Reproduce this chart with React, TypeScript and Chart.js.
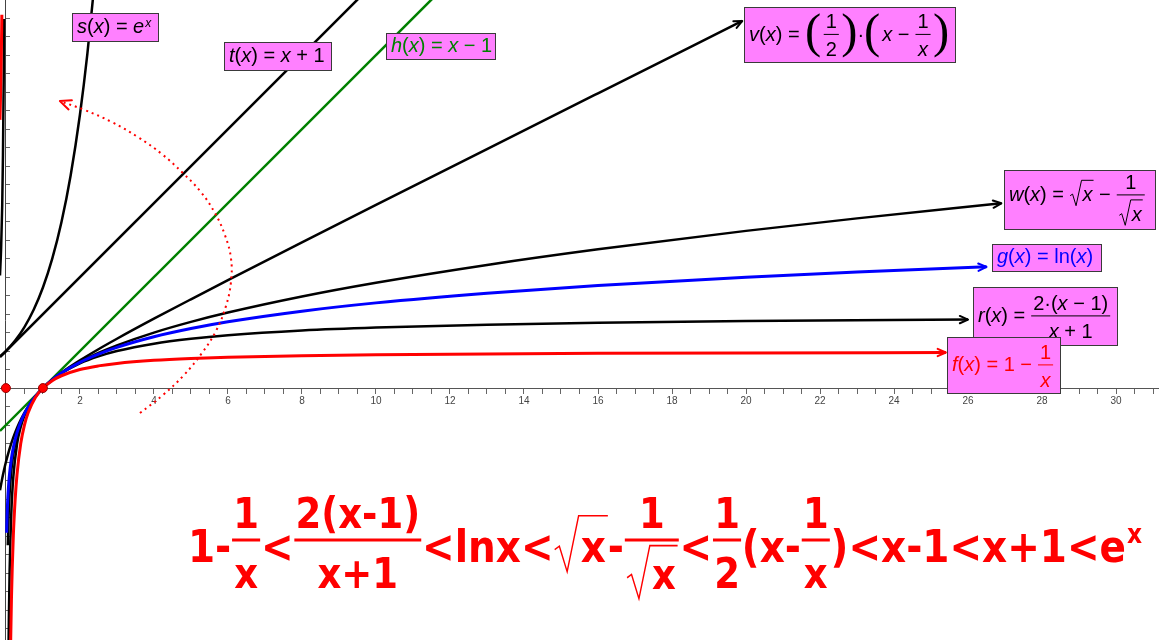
import React, { useEffect, useRef } from 'react';
import { Chart, registerables } from 'chart.js';

Chart.register(...registerables);

// ---- axis ranges ----
const X_MIN = -0.16;
const X_MAX = 31.16;
const Y_MIN = -6.81;
const Y_MAX = 10.49;
const xTickLabels = [2, 4, 6, 8, 10, 12, 14, 16, 18, 20, 22, 24, 26, 28, 30];

// ---- series ----
// f(x) = 1 - 1/x
const fX = [0.12, 0.15, 0.2, 0.25, 0.3, 0.4, 0.5, 0.6, 0.8, 1, 1.25, 1.5, 2, 2.5, 3, 4, 5, 6, 8, 10, 13, 16, 20, 25.4];
const fY = [-7.33, -5.67, -4, -3, -2.33, -1.5, -1, -0.667, -0.25, 0, 0.2, 0.333, 0.5, 0.6, 0.667, 0.75, 0.8, 0.833, 0.875, 0.9, 0.923, 0.938, 0.95, 0.961];
const fNegX = [-0.16, -0.14, -0.12, -0.11];
const fNegY = [7.25, 8.14, 9.33, 10.09];
// g(x) = ln(x)
const gX = [0.02, 0.03, 0.05, 0.075, 0.1, 0.15, 0.2, 0.3, 0.4, 0.5, 0.6, 0.8, 1, 1.25, 1.5, 2, 2.5, 3, 4, 5, 6, 8, 10, 13, 16, 20, 23, 26.5];
const gY = [-3.912, -3.507, -2.996, -2.59, -2.303, -1.897, -1.609, -1.204, -0.916, -0.693, -0.511, -0.223, 0, 0.223, 0.405, 0.693, 0.916, 1.099, 1.386, 1.609, 1.792, 2.079, 2.303, 2.565, 2.773, 2.996, 3.135, 3.277];
// r(x) = 2(x-1)/(x+1)
const rX = [-0.16, -0.1, -0.05, 0, 0.1, 0.2, 0.3, 0.4, 0.5, 0.6, 0.8, 1, 1.25, 1.5, 2, 2.5, 3, 4, 5, 6, 8, 10, 13, 16, 20, 26];
const rY = [-2.762, -2.444, -2.211, -2, -1.636, -1.333, -1.077, -0.857, -0.667, -0.5, -0.222, 0, 0.222, 0.4, 0.667, 0.857, 1, 1.2, 1.333, 1.429, 1.556, 1.636, 1.714, 1.765, 1.81, 1.852];
// w(x) = sqrt(x) - 1/sqrt(x)
const wX = [0.05, 0.075, 0.1, 0.15, 0.2, 0.3, 0.4, 0.5, 0.6, 0.8, 1, 1.25, 1.5, 2, 2.5, 3, 4, 5, 6, 8, 10, 13, 16, 20, 23, 26.9];
const wY = [-4.249, -3.377, -2.846, -2.195, -1.789, -1.278, -0.949, -0.707, -0.516, -0.224, 0, 0.224, 0.408, 0.707, 0.949, 1.155, 1.5, 1.789, 2.041, 2.475, 2.846, 3.328, 3.75, 4.249, 4.587, 4.994];
// v(x) = (x - 1/x)/2
const vX = [0.07, 0.08, 0.1, 0.12, 0.15, 0.2, 0.3, 0.4, 0.5, 0.6, 0.8, 1, 1.25, 1.5, 2, 2.5, 3, 4, 5, 6, 8, 10, 13, 16, 19.9];
const vY = [-7.108, -6.21, -4.95, -4.107, -3.258, -2.4, -1.517, -1.05, -0.75, -0.533, -0.225, 0, 0.225, 0.417, 0.75, 1.05, 1.333, 1.875, 2.4, 2.917, 3.938, 4.95, 6.462, 7.969, 9.925];
const vNegX = [-0.16, -0.13, -0.1, -0.08, -0.06, -0.05];
const vNegY = [3.045, 3.781, 4.95, 6.29, 8.36, 9.975];
// h(x) = x - 1
const hX = [-0.16, 11.6];
const hY = [-1.16, 10.6];
// t(x) = x + 1
const tX = [-0.16, 9.6];
const tY = [0.84, 10.6];
// s(x) = e^x
const sX = [-0.16, 0, 0.25, 0.5, 0.75, 1, 1.25, 1.5, 1.75, 2, 2.2, 2.4];
const sY = [0.852, 1, 1.284, 1.649, 2.117, 2.718, 3.49, 4.482, 5.755, 7.389, 9.025, 11.023];
// dotted red arc
const arcX = [3.622, 4.243, 4.811, 5.297, 5.676, 5.946, 6.081, 6.081, 5.919, 5.649, 5.27, 4.784, 4.216, 3.568, 2.865, 2.135, 1.459];
const arcY = [-0.676, -0.189, 0.351, 0.946, 1.541, 2.216, 2.865, 3.514, 4.135, 4.73, 5.297, 5.811, 6.324, 6.784, 7.189, 7.514, 7.757];
// points
const ptX = [0, 1];
const ptY = [0, 0];

const pts = (xs: number[], ys: number[]) => xs.map((x, i) => ({ x, y: ys[i] }));

// ---- tiny math text layout ----
type MNode =
  | { k: 't'; s: string; it?: boolean }
  | { k: 'frac'; n: MNode[]; d: MNode[] }
  | { k: 'sqrt'; b: MNode[] }
  | { k: 'sup'; b: MNode[] }
  | { k: 'par'; b: MNode[] };
const T = (s: string): MNode => ({ k: 't', s });
const I = (s: string): MNode => ({ k: 't', s, it: true });
const FR = (n: MNode[], d: MNode[]): MNode => ({ k: 'frac', n, d });
const SQ = (b: MNode[]): MNode => ({ k: 'sqrt', b });
const SUP = (b: MNode[]): MNode => ({ k: 'sup', b });
const PAR = (b: MNode[]): MNode => ({ k: 'par', b });

interface MStyle {
  fam: string; bold: boolean; fs: number; axis: number; numShift: number; denShift: number;
  gap: number; bar: number; barPad: number; supScale: number; supRaise: number; rad: number; radLw: number; parFam: string;
}
interface MBox { w: number; a: number; d: number; }

const fontOf = (st: MStyle, size: number, it?: boolean) =>
  `${it ? 'italic ' : ''}${st.bold ? 'bold ' : ''}${size}px ${st.fam}`;

function mNodes(ctx: CanvasRenderingContext2D, ns: MNode[], st: MStyle, size: number): MBox {
  let w = 0, a = 0, d = 0;
  for (const n of ns) {
    const b = mNode(ctx, n, st, size);
    w += b.w; a = Math.max(a, b.a); d = Math.max(d, b.d);
  }
  return { w, a, d };
}
function mNode(ctx: CanvasRenderingContext2D, n: MNode, st: MStyle, size: number): MBox {
  if (n.k === 't') {
    ctx.font = fontOf(st, size, n.it);
    const tall = /[0-9A-Zbdfhklt()\/]/.test(n.s);
    return { w: ctx.measureText(n.s).width, a: size * (tall ? 0.74 : 0.55), d: /[()gjpqy]/.test(n.s) ? size * 0.21 : 0 };
  }
  if (n.k === 'frac') {
    const f = size * st.fs;
    const nb = mNodes(ctx, n.n, st, f);
    const db = mNodes(ctx, n.d, st, f);
    const ax = size * st.axis;
    const dBase = Math.max(st.denShift * f, st.gap + db.a);
    return { w: Math.max(nb.w, db.w) + 2 * st.barPad * size, a: ax + st.numShift * f + nb.a, d: dBase + db.d - ax };
  }
  if (n.k === 'sqrt') {
    const bb = mNodes(ctx, n.b, st, size);
    return { w: bb.w + st.rad * size + 0.05 * size, a: 1.05 * size + st.radLw, d: Math.max(bb.d, 0.25 * size) };
  }
  if (n.k === 'sup') {
    const bb = mNodes(ctx, n.b, st, size * st.supScale);
    return { w: bb.w + 1, a: st.supRaise * size + bb.a, d: 0 };
  }
  const bb = mNodes(ctx, n.b, st, size);
  const ps = (bb.a + bb.d) / 0.88;
  ctx.font = `${ps}px ${st.parFam}`;
  const pw = ctx.measureText('(').width;
  return { w: bb.w + 2 * pw + 4, a: bb.a + 1, d: bb.d + 1 };
}
function dNodes(ctx: CanvasRenderingContext2D, ns: MNode[], st: MStyle, size: number, x: number, y: number): number {
  for (const n of ns) x += dNode(ctx, n, st, size, x, y);
  return x;
}
function dNode(ctx: CanvasRenderingContext2D, n: MNode, st: MStyle, size: number, x: number, y: number): number {
  const b = mNode(ctx, n, st, size);
  if (n.k === 't') {
    ctx.font = fontOf(st, size, n.it);
    ctx.fillText(n.s, x, y);
    return b.w;
  }
  if (n.k === 'frac') {
    const f = size * st.fs;
    const nb = mNodes(ctx, n.n, st, f);
    const db = mNodes(ctx, n.d, st, f);
    const barY = y - size * st.axis;
    ctx.fillRect(x + size * 0.02, barY - st.bar / 2, b.w - size * 0.04, st.bar);
    dNodes(ctx, n.n, st, f, x + (b.w - nb.w) / 2, barY - st.numShift * f);
    dNodes(ctx, n.d, st, f, x + (b.w - db.w) / 2, barY + Math.max(st.denShift * f, st.gap + db.a));
    return b.w;
  }
  if (n.k === 'sqrt') {
    const bb = mNodes(ctx, n.b, st, size);
    const rw = st.rad * size;
    const top = y - 1.05 * size;
    ctx.save();
    ctx.strokeStyle = ctx.fillStyle as string;
    ctx.lineWidth = st.radLw;
    ctx.beginPath();
    ctx.moveTo(x + 0.03 * size, y - 0.28 * size);
    ctx.lineTo(x + 0.15 * size, y - 0.36 * size);
    ctx.lineTo(x + rw * 0.5, y + 0.22 * size);
    ctx.lineTo(x + rw * 0.92, top);
    ctx.lineTo(x + rw + bb.w + 0.05 * size, top);
    ctx.stroke();
    ctx.restore();
    dNodes(ctx, n.b, st, size, x + rw, y);
    return b.w;
  }
  if (n.k === 'sup') {
    dNodes(ctx, n.b, st, size * st.supScale, x + 1, y - st.supRaise * size);
    return b.w;
  }
  const bb = mNodes(ctx, n.b, st, size);
  const ps = (bb.a + bb.d) / 0.88;
  const pf = `${ps}px ${st.parFam}`;
  ctx.font = pf;
  const pw = ctx.measureText('(').width;
  const base = y + bb.d - 0.2 * ps;
  ctx.fillText('(', x, base);
  dNodes(ctx, n.b, st, size, x + pw + 2, y);
  ctx.font = pf;
  ctx.fillText(')', x + pw + 2 + bb.w + 2, base);
  return b.w;
}

const labelStyle: MStyle = {
  fam: '"Liberation Sans", Arial, sans-serif', bold: false, fs: 1, axis: 0.32, numShift: 0.3, denShift: 1.1,
  gap: 4, bar: 1, barPad: 0.12, supScale: 0.6, supRaise: 0.3, rad: 0.65, radLw: 1, parFam: '"Liberation Serif", serif',
};
const formulaStyle: MStyle = {
  fam: '"DejaVu Sans", sans-serif', bold: true, fs: 0.95, axis: 0.5, numShift: 0.29, denShift: 1.14,
  gap: 4, bar: 3, barPad: 0.05, supScale: 0.6, supRaise: 0.43, rad: 0.7, radLw: 1.6, parFam: '"DejaVu Serif", serif',
};

const MINUS = '\u2212';
const labels = [
  { nodes: [I('s'), T('('), I('x'), T(')'), T(' = '), I('e'), SUP([I('x')])], color: '#000000', x: 1.776, y: 10.127, w: 87, h: 29 },
  { nodes: [I('t'), T('('), I('x'), T(') = '), I('x'), T(' + 1')], color: '#000000', x: 5.892, y: 9.359, w: 108, h: 29 },
  { nodes: [I('h'), T('('), I('x'), T(') = '), I('x'), T(` ${MINUS} 1`)], color: '#008000', x: 10.27, y: 9.603, w: 110, h: 27 },
  { nodes: [I('v'), T('('), I('x'), T(') = '), PAR([FR([T('1')], [T('2')])]), T('\u00B7'), PAR([I('x'), T(` ${MINUS} `), FR([T('1')], [I('x')])])], color: '#000000', x: 19.946, y: 10.289, w: 212, h: 56 },
  { nodes: [I('w'), T('('), I('x'), T(') = '), SQ([I('x')]), T(` ${MINUS} `), FR([T('1')], [SQ([I('x')])])], color: '#000000', x: 26.97, y: 5.892, w: 152, h: 60 },
  { nodes: [I('g'), T('('), I('x'), T(') = ln('), I('x'), T(')')], color: '#0000FF', x: 26.64, y: 3.884, w: 110, h: 28 },
  { nodes: [I('r'), T('('), I('x'), T(') = '), FR([T('2\u00B7('), I('x'), T(` ${MINUS} 1)`)], [I('x'), T(' + 1')])], color: '#000000', x: 26.13, y: 2.722, w: 145, h: 59 },
  { nodes: [I('f'), T('('), I('x'), T(`) = 1 ${MINUS} `), FR([T('1')], [I('x')])], color: '#FF0000', x: 25.44, y: 1.37, w: 114, h: 57 },
];

const formula: MNode[] = [
  T('1-'), FR([T('1')], [T('x')]), T('<'), FR([T('2(x-1)')], [T('x+1')]), T('<lnx<'), SQ([T('x')]), T('-'),
  FR([T('1')], [SQ([T('x')])]), T('<'), FR([T('1')], [T('2')]), T('(x-'), FR([T('1')], [T('x')]),
  T(')<x-1<x+1<e'), SUP([T('x')]),
];

function arrowHead(ctx: CanvasRenderingContext2D, x1: number, y1: number, x2: number, y2: number, color: string, len: number, ang: number, lw: number) {
  const a = Math.atan2(y2 - y1, x2 - x1);
  ctx.save();
  ctx.strokeStyle = color;
  ctx.lineWidth = lw;
  ctx.lineCap = 'round';
  ctx.lineJoin = 'round';
  ctx.beginPath();
  ctx.moveTo(x2 - len * Math.cos(a - ang), y2 - len * Math.sin(a - ang));
  ctx.lineTo(x2, y2);
  ctx.lineTo(x2 - len * Math.cos(a + ang), y2 - len * Math.sin(a + ang));
  ctx.stroke();
  ctx.restore();
}

const decorPlugin = {
  id: 'decor',
  afterDraw(chart: any) {
    const ctx: CanvasRenderingContext2D = chart.ctx;
    const xs = chart.scales.x;
    const ys = chart.scales.y;
    // arrowheads
    chart.data.datasets.forEach((ds: any, i: number) => {
      if (!ds.arrow) return;
      const el = chart.getDatasetMeta(i).data;
      const p1 = el[el.length - 2];
      const p2 = el[el.length - 1];
      arrowHead(ctx, p1.x, p1.y, p2.x, p2.y, ds.borderColor, ds.arrowLen || 9, 0.42, 2);
    });
    // label boxes
    ctx.save();
    ctx.textBaseline = 'alphabetic';
    ctx.textAlign = 'left';
    for (const L of labels) {
      const px = Math.round(xs.getPixelForValue(L.x));
      const py = Math.round(ys.getPixelForValue(L.y));
      ctx.fillStyle = '#FF80FF';
      ctx.fillRect(px, py, L.w, L.h);
      ctx.strokeStyle = '#3a3a3a';
      ctx.lineWidth = 1;
      ctx.strokeRect(px + 0.5, py + 0.5, L.w - 1, L.h - 1);
      const m = mNodes(ctx, L.nodes, labelStyle, 20);
      const base = py + (L.h - (m.a + m.d)) / 2 + m.a;
      ctx.fillStyle = L.color;
      dNodes(ctx, L.nodes, labelStyle, 20, px + 5, base);
    }
    // big formula
    const size = 44;
    const m = mNodes(ctx, formula, formulaStyle, size);
    const startX = 188;
    const targetW = 954;
    const sx = targetW / m.w;
    ctx.translate(startX, 0);
    ctx.scale(sx, 1);
    ctx.fillStyle = '#FF0000';
    dNodes(ctx, formula, formulaStyle, size, 0, 562);
    ctx.restore();
  },
};

export default function App() {
  const ref = useRef<HTMLCanvasElement | null>(null);
  useEffect(() => {
    document.body.style.margin = '0';
    const canvas = ref.current;
    if (!canvas) return;
    const line = (data: any[], color: string, width: number, extra: any = {}) => ({
      data, borderColor: color, backgroundColor: color, borderWidth: width, showLine: true,
      pointRadius: 0, fill: false, cubicInterpolationMode: 'monotone', ...extra,
    });
    const chart = new Chart(canvas, {
      type: 'scatter',
      data: {
        datasets: [
          { data: pts(ptX, ptY), pointRadius: 4.5, backgroundColor: '#FF0000', borderColor: '#990000', borderWidth: 1, showLine: false },
          { data: pts(arcX, arcY), borderColor: '#FF0000', borderWidth: 2, borderDash: [2, 4], showLine: true, pointRadius: 0, tension: 0.4, arrow: true, arrowLen: 12 } as any,
          line(pts(fX, fY), '#FF0000', 3, { arrow: true }),
          line(pts(fNegX, fNegY), '#FF0000', 3),
          line(pts(gX, gY), '#0000FF', 3, { arrow: true }),
          line(pts(rX, rY), '#000000', 2.5, { arrow: true }),
          line(pts(wX, wY), '#000000', 2.5, { arrow: true }),
          line(pts(vX, vY), '#000000', 2.5, { arrow: true }),
          line(pts(vNegX, vNegY), '#000000', 2.5),
          line(pts(hX, hY), '#008000', 2.5),
          line(pts(tX, tY), '#000000', 2.5),
          line(pts(sX, sY), '#000000', 2.5),
        ],
      },
      options: {
        responsive: false,
        animation: false,
        events: [],
        layout: { padding: 0, autoPadding: false },
        plugins: { legend: { display: false }, tooltip: { enabled: false } },
        scales: {
          x: {
            type: 'linear', min: X_MIN, max: X_MAX, position: { y: 0 } as any,
            grid: { drawOnChartArea: false, drawTicks: true, tickLength: 5, color: '#666666' },
            border: { color: '#555555', width: 1 },
            ticks: {
              stepSize: 0.5, autoSkip: false, maxRotation: 0, includeBounds: false, padding: 2,
              color: '#444444', font: { family: '"Liberation Sans", Arial, sans-serif', size: 10 },
              callback: (v: any) => (xTickLabels.includes(Number(v)) ? String(v) : ''),
            },
          },
          y: {
            type: 'linear', min: Y_MIN, max: Y_MAX, position: { x: 0 } as any,
            grid: { drawOnChartArea: false, drawTicks: true, tickLength: -5, color: '#666666' },
            border: { color: '#444444', width: 1 },
            ticks: { stepSize: 0.5, display: false, includeBounds: false },
          },
        },
      },
      plugins: [decorPlugin],
    } as any);
    return () => chart.destroy();
  }, []);
  return (
    <div style={{ width: 1159, height: 640, overflow: 'hidden', background: '#ffffff' }}>
      <canvas ref={ref} width={1159} height={640} style={{ width: 1159, height: 640, display: 'block' }} />
    </div>
  );
}
